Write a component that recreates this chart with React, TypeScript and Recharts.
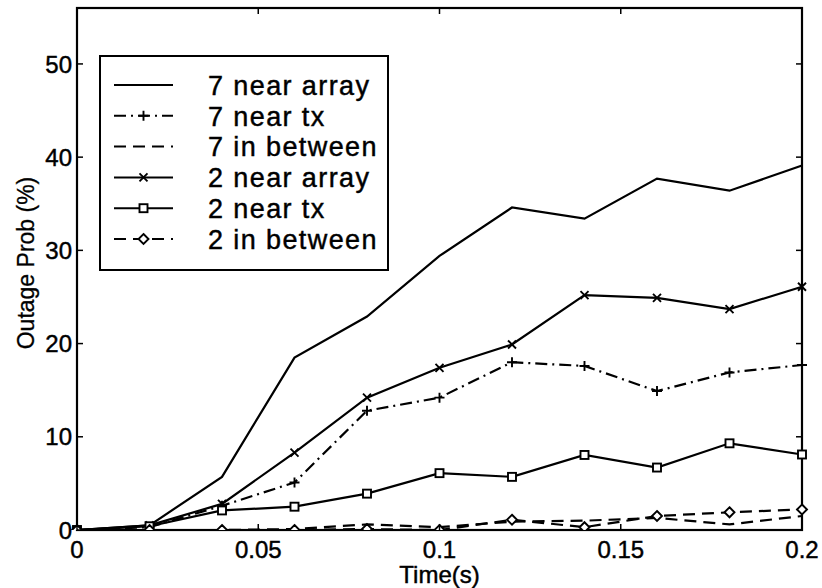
import React from 'react';
import { LineChart, Line, XAxis, YAxis, Legend, ReferenceArea } from 'recharts';

const times = [0, 0.02, 0.04, 0.06, 0.08, 0.1, 0.12, 0.14, 0.16, 0.18, 0.2];
const near7Array = [0, 0.5, 5.7, 18.5, 22.9, 29.4, 34.6, 33.4, 37.7, 36.4, 39.1];
const near7Tx = [0, 0.3, 2.6, 5.1, 12.8, 14.2, 18.0, 17.6, 14.9, 16.9, 17.7];
const between7 = [0, 0, 0, 0.1, 0.6, 0.3, 0.9, 1.0, 1.3, 0.6, 1.5];
const near2Array = [0, 0.5, 2.8, 8.3, 14.2, 17.4, 19.9, 25.2, 24.9, 23.7, 26.1];
const near2Tx = [0, 0.4, 2.1, 2.5, 3.9, 6.1, 5.7, 8.05, 6.7, 9.3, 8.1];
const between2 = [0, 0, 0, 0, 0.1, 0, 1.1, 0.3, 1.5, 1.9, 2.2];

const seriesNames = ['7 near array', '7 near tx', '7 in between', '2 near array', '2 near tx', '2 in between'];
const xTicks = [0, 0.05, 0.1, 0.15, 0.2];
const yTicks = [0, 10, 20, 30, 40, 50];
const xDomain: [number, number] = [0, 0.2];
const yDomain: [number, number] = [0, 56];
const xLabel = 'Time(s)';
const yLabel = 'Outage Prob (%)';

const data = times.map((t, i) => ({
  t,
  s0: near7Array[i],
  s1: near7Tx[i],
  s2: between7[i],
  s3: near2Array[i],
  s4: near2Tx[i],
  s5: between2[i],
}));

type MarkerKind = 'none' | 'plus' | 'x' | 'square' | 'diamond';
const styles: { key: string; dash?: string; marker: MarkerKind }[] = [
  { key: 's0', marker: 'none' },
  { key: 's1', dash: '12 5 2 5', marker: 'plus' },
  { key: 's2', dash: '12 7', marker: 'none' },
  { key: 's3', marker: 'x' },
  { key: 's4', marker: 'square' },
  { key: 's5', dash: '12 7', marker: 'diamond' },
];

const FONT = '"Liberation Sans", Arial, Helvetica, sans-serif';
const X_TICK_MARGIN = 11;
const Y_TICK_MARGIN = 5;
const TICK_LEN = 6;
const TEXT_STROKE = 0.45;

function Marker({ kind, cx, cy }: { kind: MarkerKind; cx: number; cy: number }) {
  const s = { stroke: '#000', strokeWidth: 1.9, fill: 'none' };
  if (kind === 'plus') return <path d={`M${cx - 5} ${cy}H${cx + 5}M${cx} ${cy - 5}V${cy + 5}`} {...s} />;
  if (kind === 'x') return <path d={`M${cx - 4} ${cy - 4}L${cx + 4} ${cy + 4}M${cx - 4} ${cy + 4}L${cx + 4} ${cy - 4}`} {...s} />;
  if (kind === 'square') return <rect x={cx - 4} y={cy - 4} width={8} height={8} {...s} fill="#fff" />;
  if (kind === 'diamond') return <path d={`M${cx} ${cy - 5}L${cx + 5} ${cy}L${cx} ${cy + 5}L${cx - 5} ${cy}Z`} {...s} fill="#fff" />;
  return null;
}

const BottomTick = (p: any) => (
  <g>
    <line x1={p.x} x2={p.x} y1={p.y - X_TICK_MARGIN} y2={p.y - X_TICK_MARGIN - TICK_LEN} stroke="#000" strokeWidth={1.5} />
    <text x={p.x} y={p.y} dy="0.71em" textAnchor="middle" fontSize={24} fontFamily={FONT} fill="#000" stroke="#000" strokeWidth={TEXT_STROKE}>
      {p.payload.value}
    </text>
  </g>
);
const LeftTick = (p: any) => (
  <g>
    <line x1={p.x + Y_TICK_MARGIN} x2={p.x + Y_TICK_MARGIN + TICK_LEN} y1={p.y} y2={p.y} stroke="#000" strokeWidth={1.5} />
    <text x={p.x} y={p.y} dy="0.36em" textAnchor="end" fontSize={24} fontFamily={FONT} fill="#000" stroke="#000" strokeWidth={TEXT_STROKE}>
      {p.payload.value}
    </text>
  </g>
);
const RightTick = (p: any) => (
  <line x1={p.x} x2={p.x - TICK_LEN} y1={p.y} y2={p.y} stroke="#000" strokeWidth={1.5} />
);

const YLabel = (lp: any) => {
  const vb = lp.viewBox || { x: 0, y: 0, width: 0, height: 0 };
  const cx = vb.x + 26;
  const cy = vb.y + vb.height / 2 - 6;
  return (
    <text x={cx} y={cy} transform={`rotate(-90 ${cx} ${cy})`} textAnchor="middle" dy="0.36em" fontSize={23} fontFamily={FONT} fill="#000" stroke="#000" strokeWidth={0.3}>
      {yLabel}
    </text>
  );
};

const XLabel = (lp: any) => {
  const vb = lp.viewBox || { x: 0, y: 0, width: 0, height: 0 };
  const cx = vb.x + vb.width / 2;
  const by = vb.y + vb.height - 5;
  return (
    <text x={cx} y={by} textAnchor="middle" fontSize={24} fontFamily={FONT} fill="#000" stroke="#000" strokeWidth={TEXT_STROKE}>
      {xLabel}
    </text>
  );
};

// Plot frame (box) with inward top tick marks, sized from the reference area's own rectangle
const Frame = (p: any) => {
  const x = Number(p.x);
  const y = Number(p.y);
  const w = Number(p.width);
  const h = Number(p.height);
  if (!isFinite(x) || !isFinite(y) || !isFinite(w) || !isFinite(h)) return null;
  return (
    <g>
      <rect x={x} y={y} width={w} height={h} fill="none" stroke="#000" strokeWidth={2.2} />
      {xTicks.map((t) => {
        const tx = x + ((t - xDomain[0]) / (xDomain[1] - xDomain[0])) * w;
        return <line key={t} x1={tx} x2={tx} y1={y} y2={y + TICK_LEN} stroke="#000" strokeWidth={1.5} />;
      })}
    </g>
  );
};

const LegendBox = () => (
  <svg width={290} height={216} style={{ display: 'block' }}>
    <rect x={1} y={1} width={288} height={214} fill="#fff" stroke="#000" strokeWidth={2} />
    {styles.map((st, i) => {
      const y = 30 + i * 30.8;
      return (
        <g key={st.key}>
          <line x1={15} x2={74} y1={y} y2={y} stroke="#000" strokeWidth={2} strokeDasharray={st.dash} />
          <Marker kind={st.marker} cx={44.5} cy={y} />
          <text x={109} y={y} dy="0.36em" fontSize={27} letterSpacing={1.4} fontFamily={FONT} fill="#000" stroke="#000" strokeWidth={TEXT_STROKE}>
            {seriesNames[i]}
          </text>
        </g>
      );
    })}
  </svg>
);

export default function App() {
  const axisLine = { stroke: '#000', strokeWidth: 2 };
  return (
    <div style={{ position: 'absolute', left: 0, top: 0, width: 822, height: 588, background: '#fff' }}>
      <LineChart width={822} height={588} data={data} margin={{ top: 8, right: 0, bottom: 0, left: 0 }}>
        <XAxis
          xAxisId="b"
          dataKey="t"
          type="number"
          domain={xDomain}
          ticks={xTicks}
          interval={0}
          height={58}
          axisLine={axisLine}
          tickLine={false}
          tickSize={0}
          tickMargin={X_TICK_MARGIN}
          tick={<BottomTick />}
          label={{ content: <XLabel /> }}
        />
        <YAxis
          yAxisId="l"
          type="number"
          domain={yDomain}
          allowDataOverflow
          ticks={yTicks}
          interval={0}
          width={77}
          axisLine={axisLine}
          tickLine={false}
          tickSize={0}
          tickMargin={Y_TICK_MARGIN}
          tick={<LeftTick />}
          label={{ content: <YLabel /> }}
        />
        <YAxis
          yAxisId="r"
          orientation="right"
          type="number"
          domain={yDomain}
          allowDataOverflow
          ticks={yTicks}
          interval={0}
          width={20}
          axisLine={axisLine}
          tickLine={false}
          tickSize={0}
          tickMargin={0}
          tick={<RightTick />}
        />
        <ReferenceArea
          xAxisId="b"
          yAxisId="l"
          x1={xDomain[0]}
          x2={xDomain[1]}
          y1={yDomain[0]}
          y2={yDomain[1]}
          ifOverflow="visible"
          fill="none"
          stroke="#000"
          strokeWidth={2}
          fillOpacity={0}
          shape={<Frame />}
        />
        <Legend
          layout="horizontal"
          align="center"
          verticalAlign="middle"
          content={<LegendBox />}
          wrapperStyle={{ position: 'absolute', left: 99, top: 55, width: 290, height: 216 }}
        />
        {styles.map((st, i) => (
          <Line
            key={st.key}
            xAxisId="b"
            yAxisId="l"
            type="linear"
            dataKey={st.key}
            name={seriesNames[i]}
            stroke="#000"
            strokeWidth={2.2}
            strokeDasharray={st.dash}
            isAnimationActive={false}
            dot={
              st.marker === 'none'
                ? false
                : (p: any) => <Marker key={`${st.key}-${p.index}`} kind={st.marker} cx={p.cx} cy={p.cy} />
            }
            activeDot={false}
          />
        ))}
      </LineChart>
    </div>
  );
}
